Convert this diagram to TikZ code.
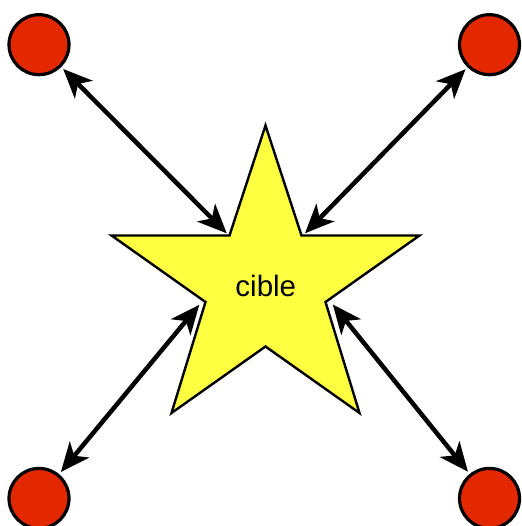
\documentclass[tikz,border=0pt]{standalone}
\usepackage{fontspec}
\setmainfont{Liberation Sans}
\usetikzlibrary{arrows.meta}
\definecolor{dotred}{RGB}{227,40,0}
\definecolor{staryellow}{RGB}{255,255,66}
\tikzset{
  dot/.style={circle, draw=black, fill=dotred, line width=3.2pt, minimum size=60pt, inner sep=0pt, outer sep=4.3pt},
  link/.style={line width=4.5pt, {Stealth[length=29pt,width=25pt,inset=8pt]}-{Stealth[length=29pt,width=25pt,inset=8pt]}},
  starshape/.style={draw=black, fill=staryellow, line width=2.4pt, line join=miter},
  lbl/.style={anchor=base, inner sep=0pt, font=\fontsize{29.5}{34}\selectfont}
}
\begin{document}
\begin{tikzpicture}[x=1pt, y=-1pt]
\useasboundingbox (0,0) rectangle (521,526);
% star outline
\draw[starshape] (265.5,125.5) -- (229.5,235.5) -- (111.5,235.5) -- (205.5,302)
  -- (171.5,413) -- (265.5,346.5) -- (359.5,413) -- (325.5,302)
  -- (419.5,235.5) -- (301.5,235.5) -- cycle;
\node[lbl] (cible) at (265.8,296.3) {cible};
% arrow ends on the star
\coordinate (sTL) at (226.7,233.3);
\coordinate (sTR) at (305,233.3);
\coordinate (sBL) at (199.3,304.8);
\coordinate (sBR) at (332.8,304.5);
% circles
\node[dot] (tl) at (39,44.7) {};
\node[dot] (tr) at (489.5,44.7) {};
\node[dot] (bl) at (39,498.4) {};
\node[dot] (br) at (489.5,498.4) {};
% connectors
\draw[link] (tl) -- (sTL);
\draw[link] (tr) -- (sTR);
\draw[link] (bl) -- (sBL);
\draw[link] (br) -- (sBR);
\end{tikzpicture}
\end{document}
